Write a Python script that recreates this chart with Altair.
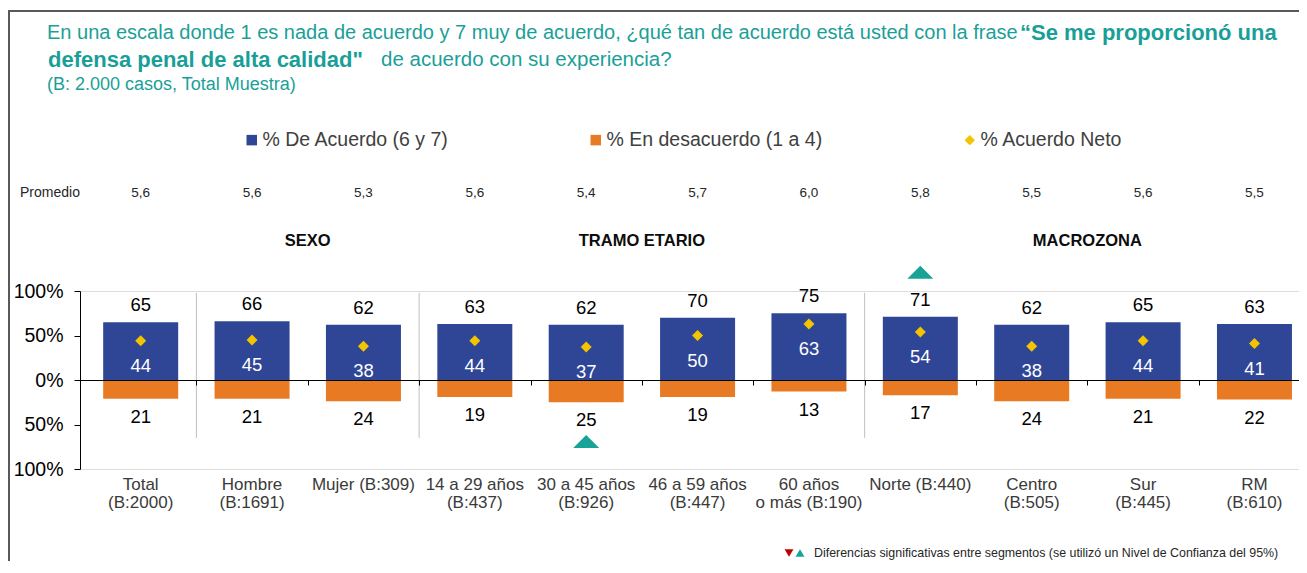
import altair as alt
import pandas as pd

FONT = "Liberation Sans"
TEAL = "#1A9F98"
BLUE = "#2F4696"
ORANGE = "#E87A24"
GOLD = "#F4C400"

# ---------------- data ----------------
categories = ["Total", "Hombre", "Mujer", "14 a 29 años", "30 a 45 años", "46 a 59 años",
              "60 años o más", "Norte", "Centro", "Sur", "RM"]
cat_labels = [["Total", "(B:2000)"], ["Hombre", "(B:1691)"], ["Mujer (B:309)"],
              ["14 a 29 años", "(B:437)"], ["30 a 45 años", "(B:926)"], ["46 a 59 años", "(B:447)"],
              ["60 años", "o más (B:190)"], ["Norte (B:440)"], ["Centro", "(B:505)"],
              ["Sur", "(B:445)"], ["RM", "(B:610)"]]
acuerdo = [65, 66, 62, 63, 62, 70, 75, 71, 62, 65, 63]
desacuerdo = [21, 21, 24, 19, 25, 19, 13, 17, 24, 21, 22]
neto = [44, 45, 38, 44, 37, 50, 63, 54, 38, 44, 41]
promedio = ["5,6", "5,6", "5,3", "5,6", "5,4", "5,7", "6,0", "5,8", "5,5", "5,6", "5,5"]
groups = ["SEXO", "TRAMO ETARIO", "MACROZONA"]
group_first = [1, 3, 7]
group_last = [2, 6, 10]
separators = [0.5, 2.5, 6.5]
sig_above = ["Norte"]          # significant difference marked above the bar
sig_below = ["30 a 45 años"]   # significant difference marked below the bar
series = ["% De Acuerdo (6 y 7)", "% En desacuerdo (1 a 4)", "% Acuerdo Neto"]

idx = list(range(len(categories)))

bars = pd.DataFrame({
    "i": idx * 2,
    "value": acuerdo + [-d for d in desacuerdo],
    "serie": [series[0]] * len(idx) + [series[1]] * len(idx),
})
base = pd.DataFrame({"i": idx, "cat": categories, "acuerdo": acuerdo,
                     "des": [-d for d in desacuerdo], "neto": neto,
                     "prom": promedio, "lab": cat_labels, "serie": series[2]})
grp = pd.DataFrame({"g": groups, "x": [(a + b) / 2 for a, b in zip(group_first, group_last)]})
seps = pd.DataFrame({"x": separators})
sig = pd.DataFrame({
    "i": [categories.index(c) for c in sig_above] + [categories.index(c) for c in sig_below],
    "y": [acuerdo[categories.index(c)] + 50 for c in sig_above]
         + [-(desacuerdo[categories.index(c)] + 44) for c in sig_below],
})

xscale = alt.Scale(domain=[-0.5, 10.355], nice=False, zero=False)
yscale = alt.Scale(domain=[-100, 100], nice=False)
X = alt.X("i:Q", scale=xscale,
          axis=alt.Axis(values=[k + 0.5 for k in range(10)], labels=False, title=None, grid=False,
                        tickSize=5, tickColor="#000000", domainColor="#000000", offset=-89, zindex=1))
legend = alt.Legend(orient="none", legendX=162, legendY=-161, direction="horizontal", title=None,
                    labelFont=FONT, labelFontSize=19.5, labelColor="#404040", labelLimit=0,
                    symbolSize=110, columnPadding=137, labelOffset=1, padding=0,
                    symbolStrokeWidth=0)
colscale = alt.Scale(domain=series, range=[BLUE, ORANGE, GOLD])

bar_layer = alt.Chart(bars).mark_bar(size=75).encode(
    x=X,
    y=alt.Y("value:Q", scale=yscale,
            axis=alt.Axis(values=[-100, -50, 0, 50, 100], labelExpr="abs(datum.value) + '%'",
                          title=None, grid=False, tickSize=6, labelPadding=11,
                          tickColor="#000000", domainColor="#000000", labelColor="#000000",
                          labelFont=FONT, labelFontSize=19.5)),
    color=alt.Color("serie:N", scale=colscale, legend=legend),
)

sep_layer = alt.Chart(seps).mark_rule(color="#BFBFBF", strokeWidth=1).encode(
    x=alt.X("x:Q", scale=xscale), y=alt.datum(98), y2=alt.datum(-65))

point_layer = alt.Chart(base).mark_point(filled=True, size=120, opacity=1).encode(
    x=alt.X("i:Q", scale=xscale),
    y=alt.Y("neto:Q", scale=yscale),
    color=alt.Color("serie:N", scale=colscale, legend=legend),
    shape=alt.Shape("serie:N", scale=alt.Scale(domain=series, range=["square", "square", "diamond"]),
                    legend=legend),
)

txt = dict(font=FONT, baseline="middle", align="center")
lab_acu = alt.Chart(base).mark_text(dy=-17, fontSize=18.5, color="#000000", **txt).encode(
    x=alt.X("i:Q", scale=xscale), y=alt.Y("acuerdo:Q", scale=yscale), text="acuerdo:Q")
lab_des = alt.Chart(base).transform_calculate(d="abs(datum.des)").mark_text(
    dy=18, fontSize=18.5, color="#000000", **txt).encode(
    x=alt.X("i:Q", scale=xscale), y=alt.Y("des:Q", scale=yscale), text="d:Q")
lab_neto = alt.Chart(base).mark_text(dy=25, fontSize=18.5, color="#FFFFFF", **txt).encode(
    x=alt.X("i:Q", scale=xscale), y=alt.Y("neto:Q", scale=yscale), text="neto:Q")

tri_path = "M-1,0.5L1,0.5L0,-0.5Z"
sig_layer = alt.Chart(sig).mark_point(shape=tri_path, filled=True, size=676, color="#17A398",
                                      opacity=1).encode(
    x=alt.X("i:Q", scale=xscale), y=alt.Y("y:Q", scale=yscale))

prom_layer = alt.Chart(base).mark_text(fontSize=13.5, color="#262626", **txt).encode(
    x=alt.X("i:Q", scale=xscale), y=alt.value(-98), text="prom:N")
grp_layer = alt.Chart(grp).mark_text(fontSize=16.5, fontWeight="bold", color="#0D0D0D", **txt).encode(
    x=alt.X("x:Q", scale=xscale), y=alt.value(-50), text="g:N")
cat_layer = alt.Chart(base).mark_text(font=FONT, fontSize=17, color="#3A3A3A", align="center",
                                      baseline="top", lineHeight=18).encode(
    x=alt.X("i:Q", scale=xscale), y=alt.value(186), text="lab")


def label(text, x, y, size, color, weight="normal", align="left"):
    return alt.Chart(pd.DataFrame({"t": [text]})).mark_text(
        font=FONT, fontSize=size, color=color, fontWeight=weight, align=align, baseline="middle"
    ).encode(x=alt.value(x), y=alt.value(y), text="t:N")


title_layers = [
    label("En una escala donde 1 es nada de acuerdo y 7 muy de acuerdo, ¿qué tan de acuerdo está usted con la frase",
          -33, -258, 20, TEAL),
    label("“Se me proporcionó una", 940, -258, 22, TEAL, "bold"),
    label("defensa penal de alta calidad\"", -32, -231, 22, TEAL, "bold"),
    label("de acuerdo con su experiencia?", 301, -231, 20.5, TEAL),
    label("(B: 2.000 casos, Total Muestra)", -33, -206, 18, TEAL),
    label("Promedio", -60, -98, 14, "#262626"),
    label("Diferencias significativas entre segmentos (se utilizó un Nivel de Confianza del 95%)",
          734, 262, 12.4, "#262626"),
]

one = pd.DataFrame({"k": [0]})
foot_tris = [
    alt.Chart(one).mark_point(shape="triangle-down", filled=True, size=80, color="#C00000", opacity=1)
    .encode(x=alt.value(709), y=alt.value(262)),
    alt.Chart(one).mark_point(shape="triangle-up", filled=True, size=80, color="#17A398", opacity=1)
    .encode(x=alt.value(720), y=alt.value(262)),
]
frame = [
    alt.Chart(one).mark_rule(color="#595959", strokeWidth=2)
    .encode(x=alt.value(-71), y=alt.value(-280), y2=alt.value(300)),
    alt.Chart(one).mark_rule(color="#595959", strokeWidth=2)
    .encode(x=alt.value(-72), x2=alt.value(1230), y=alt.value(-280)),
]

chart = alt.layer(
    sep_layer, bar_layer, point_layer, lab_acu, lab_des, lab_neto, sig_layer,
    prom_layer, grp_layer, cat_layer, *title_layers, *foot_tris, *frame
).properties(
    width=1219, height=178,
    autosize=alt.AutoSizeParams(type="none"),
    padding={"left": 72, "top": 283, "right": 0, "bottom": 92},
).configure_view(stroke=None).configure(background="#FFFFFF")

chart.save("out.html", embed_options={"renderer": "svg", "actions": False})
